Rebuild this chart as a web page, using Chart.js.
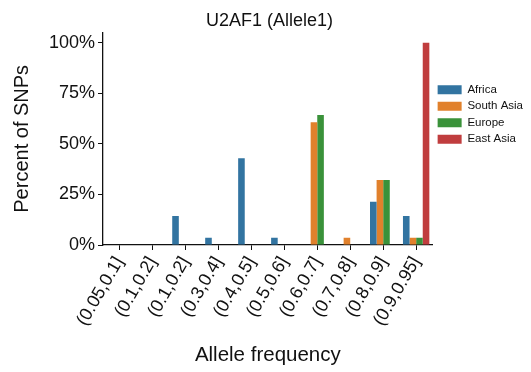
<!DOCTYPE html>
<html>
<head>
<meta charset="utf-8">
<script src="https://cdn.jsdelivr.net/npm/chart.js@4"></script>
<style>
  html, body { margin: 0; padding: 0; background: #fff; }
  #wrap { width: 531px; height: 372px; }
</style>
</head>
<body>
<div id="wrap"><canvas id="alleleChart" width="531" height="372"></canvas></div>
<script>
// categories and values (percent of SNPs)
const bins = ['(0.05,0.1]', '(0.1,0.2]', '(0.1,0.2]', '(0.3,0.4]', '(0.4,0.5]', '(0.5,0.6]', '(0.6,0.7]', '(0.7,0.8]', '(0.8,0.9]', '(0.9,0.95]'];
const africa    = [0, 0, 14.3, 3.6, 42.9, 3.6, 0, 0, 21.4, 14.3];
const southAsia = [0, 0, 0, 0, 0, 0, 60.7, 3.6, 32.1, 3.6];
const europe    = [0, 0, 0, 0, 0, 0, 64.3, 0, 32.1, 3.6];
const eastAsia  = [0, 0, 0, 0, 0, 0, 0, 0, 0, 100];
const yTicks = [0, 25, 50, 75, 100];

document.addEventListener('DOMContentLoaded', () => {
    const font = 'Liberation Sans, Arial, Helvetica, sans-serif';
    const ink = '#111';
    const ctx = document.getElementById('alleleChart');

    new Chart(ctx, {
        type: 'bar',
        data: {
            labels: bins,
            datasets: [
                { label: 'Africa', data: africa, backgroundColor: '#3274a1' },
                { label: 'South Asia', data: southAsia, backgroundColor: '#e1812c' },
                { label: 'Europe', data: europe, backgroundColor: '#3a923a' },
                { label: 'East Asia', data: eastAsia, backgroundColor: '#c03d3e' }
            ]
        },
        options: {
            responsive: false,
            animation: false,
            datasets: { bar: { categoryPercentage: 0.8, barPercentage: 1.0, borderWidth: 0 } },
            layout: { padding: { left: 6, right: -2, top: 0, bottom: 0 } },
            plugins: {
                title: {
                    display: true,
                    text: 'U2AF1 (Allele1)',
                    color: ink,
                    font: { family: font, size: 18, weight: 'normal' },
                    padding: { top: 10, bottom: 1 }
                },
                legend: {
                    position: 'right',
                    align: 'start',
                    title: { display: true, text: ' ', font: { size: 10 }, padding: { top: 67, bottom: 0 } },
                    labels: {
                        color: ink,
                        font: { family: font, size: 11.5 },
                        boxWidth: 24,
                        boxHeight: 9,
                        padding: 5
                    }
                },
                tooltip: { enabled: false }
            },
            scales: {
                x: {
                    afterFit: (scale) => { scale.height = 127; },
                    grid: { offset: false, drawOnChartArea: false, drawTicks: true, tickLength: 5, color: ink, lineWidth: 1 },
                    border: { display: true, color: ink, width: 1.3 },
                    ticks: {
                        autoSkip: false,
                        minRotation: 60,
                        maxRotation: 60,
                        color: ink,
                        font: { family: font, size: 18 }
                    },
                    title: {
                        display: true,
                        text: 'Allele frequency',
                        color: ink,
                        font: { family: font, size: 20.5 },
                        padding: { top: 4, bottom: 4 }
                    }
                },
                y: {
                    min: 0,
                    max: 105,
                    afterFit: (scale) => { scale.width = 97; },
                    afterBuildTicks: (scale) => { scale.ticks = yTicks.map(v => ({ value: v })); },
                    grid: { drawOnChartArea: false, drawTicks: true, tickLength: 5, color: ink, lineWidth: 1 },
                    border: { display: true, color: ink, width: 1.3 },
                    ticks: {
                        color: ink,
                        padding: 3,
                        font: { family: font, size: 18 },
                        callback: (v) => v + '%'
                    },
                    title: {
                        display: true,
                        text: 'Percent of SNPs',
                        color: ink,
                        font: { family: font, size: 20 },
                        padding: { top: 4, bottom: 4 }
                    }
                }
            }
        }
    });
});
</script>
</body>
</html>
